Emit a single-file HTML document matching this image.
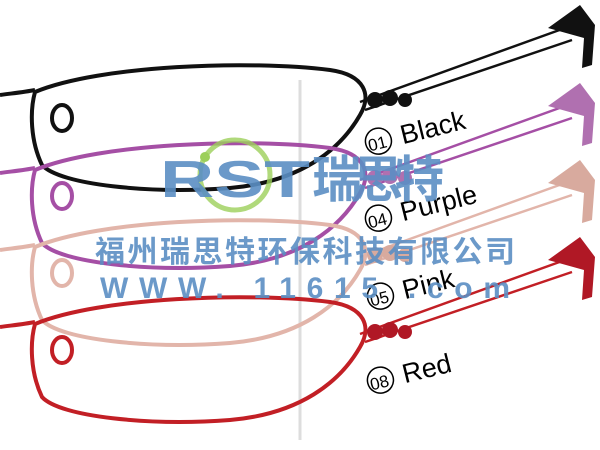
<!DOCTYPE html>
<html><head><meta charset="utf-8"><style>
html,body{margin:0;padding:0;background:#fff;width:600px;height:450px;overflow:hidden}
svg{display:block}
</style></head><body>
<svg width="600" height="450" viewBox="0 0 600 450" xmlns="http://www.w3.org/2000/svg">
<defs>
<g id="frame">
  <path d="M0,95 C15,93 25,92 35,90" fill="none" stroke-width="4"/>
  <path d="M35,92 C100,65 250,60 330,70 C365,75 372,95 360,115 C340,150 300,182 230,188 C150,194 60,185 42,165 C30,140 30,110 35,92 Z" fill="none" stroke-width="4"/>
  <path d="M360,102 L565,28 M365,110 L572,40" fill="none" stroke-width="2.5"/>
  <path d="M548,28 L580,5 L595,25 L592,65 L582,68 L584,38 Z" stroke="none"/>
  <circle cx="375" cy="100" r="8" stroke="none"/>
  <circle cx="390" cy="98" r="8" stroke="none"/>
  <circle cx="405" cy="100" r="7" stroke="none"/>
  <ellipse cx="62" cy="118" rx="10" ry="13" fill="none" stroke-width="4"/>
</g>
</defs>
<line x1="300" y1="80" x2="300" y2="440" stroke="#ddd" stroke-width="3"/>
<use href="#frame" stroke="#111" fill="#111"/>
<use href="#frame" stroke="#a54fa5" fill="#b070b0" transform="translate(0,78)"/>
<use href="#frame" stroke="#e2b5aa" fill="#d8aa9e" transform="translate(0,155)"/>
<use href="#frame" stroke="#c21f25" fill="#b01825" transform="translate(0,232)"/>
<g font-family="Liberation Sans, sans-serif" font-size="27" fill="#000">
  <g transform="translate(368,153) rotate(-14)"><circle cx="13" cy="-9" r="13" fill="none" stroke="#000" stroke-width="1.5"/><text x="2" y="-1" font-size="17">01</text><text x="36" y="0">Black</text></g>
  <g transform="translate(368,230) rotate(-14)"><circle cx="13" cy="-9" r="13" fill="none" stroke="#000" stroke-width="1.5"/><text x="2" y="-1" font-size="17">04</text><text x="36" y="0">Purple</text></g>
  <g transform="translate(370,308) rotate(-14)"><circle cx="13" cy="-9" r="13" fill="none" stroke="#000" stroke-width="1.5"/><text x="2" y="-1" font-size="17">05</text><text x="36" y="0">Pink</text></g>
  <g transform="translate(370,392) rotate(-14)"><circle cx="13" cy="-9" r="13" fill="none" stroke="#000" stroke-width="1.5"/><text x="2" y="-1" font-size="17">08</text><text x="36" y="0">Red</text></g>
</g>
<circle cx="235" cy="175" r="35" fill="none" stroke="#9ccf5a" stroke-width="5" opacity="0.8"/>
<circle cx="205" cy="157" r="5" fill="#9ccf5a"/>
<g font-family="Liberation Sans, 'Noto Sans CJK SC', sans-serif" fill="#5b8fc4" opacity="0.9" font-weight="bold">
  <text x="160" y="197" font-size="52" textLength="150" lengthAdjust="spacingAndGlyphs">RST</text>
  <text x="312" y="197" font-size="50" textLength="132">瑞思特</text>
  <text x="95" y="262" font-size="30" textLength="420">福州瑞思特环保科技有限公司</text>
  <text x="100" y="298" font-size="30" textLength="410">WWW. 11615 .com</text>
</g>
</svg>
</body></html>
